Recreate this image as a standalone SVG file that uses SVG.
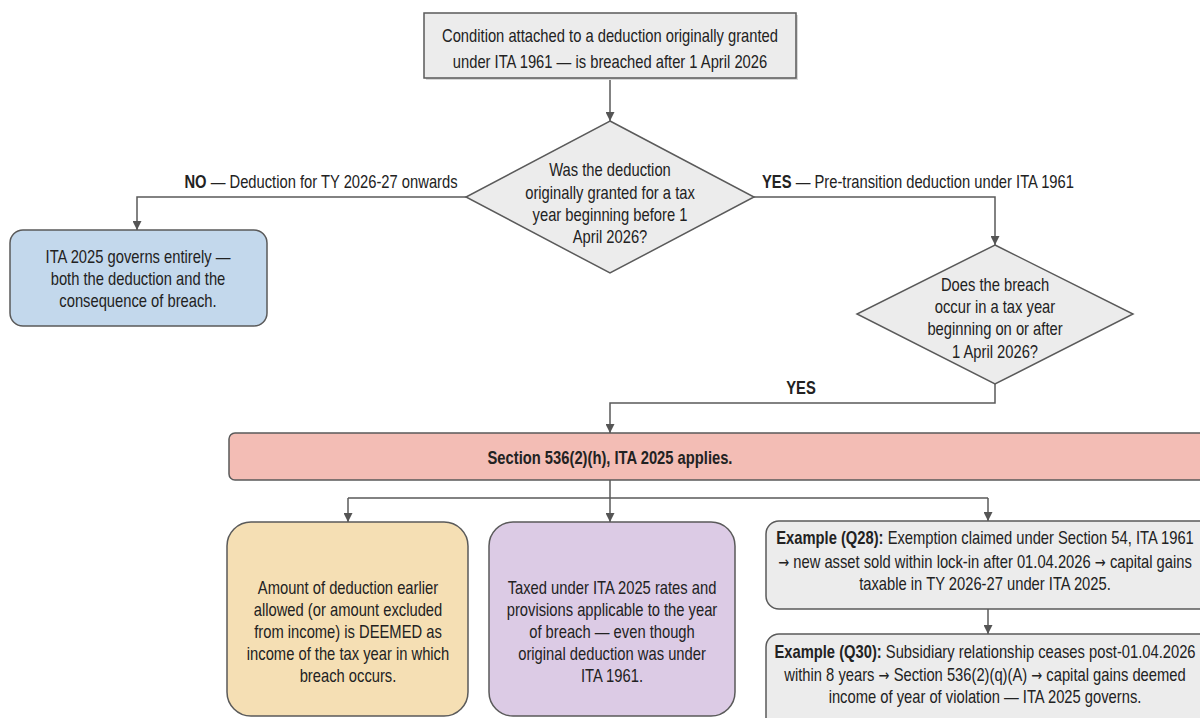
<svg xmlns="http://www.w3.org/2000/svg" width="1200" height="718" viewBox="0 0 1200 718">
<defs>
<marker id="ah" viewBox="0 0 10 10" refX="10" refY="5" markerWidth="9" markerHeight="9" markerUnits="userSpaceOnUse" orient="auto">
<path d="M0,0 L10,5 L0,10 z" fill="#555"/>
</marker>
<style>
text{font-family:"Liberation Sans",Arial,sans-serif;font-size:18px;fill:#222;text-anchor:middle}
.b{font-weight:bold}
.ar{font-family:"DejaVu Sans",sans-serif;font-size:16px}
.st{stroke:#5a5a5a;stroke-width:1.5}
.gray{fill:#ececec}
.conn path{fill:none;stroke:#5a5a5a;stroke-width:1.5}
.arr{marker-end:url(#ah)}
</style>
</defs>
<rect width="1200" height="718" fill="#ffffff"/>

<g id="connectors" class="conn">
<path class="arr" d="M610,78 V121"/>
<path class="arr" d="M466,197 H137 V230"/>
<path class="arr" d="M754,197 H995 V245"/>
<path class="arr" d="M995,384 V403 H610 V433"/>
<path d="M610,480 V498 M348,498 H988"/>
<path class="arr" d="M348,498 V522"/>
<path class="arr" d="M610,498 V522"/>
<path class="arr" d="M988,498 V521"/>
<path class="arr" d="M988,609 V634"/>
<g transform="translate(321 0) scale(0.82 1)"><text y="188"><tspan class="b">NO</tspan> — Deduction for TY 2026-27 onwards</text></g>
<g transform="translate(918 0) scale(0.82 1)"><text y="188"><tspan class="b">YES</tspan> — Pre-transition deduction under ITA 1961</text></g>
<g transform="translate(801 0) scale(0.82 1)"><text y="394" class="b">YES</text></g>
</g>

<g id="start">
<rect x="426" y="15" width="372" height="65" fill="#d8d8d8"/>
<rect x="424" y="13" width="372" height="65" class="gray st"/>
<g transform="translate(610 0) scale(0.82 1)">
<text y="42">Condition attached to a deduction originally granted</text>
<text y="68">under ITA 1961 — is breached after 1 April 2026</text>
</g>
</g>

<g id="decision1">
<polygon points="610,121 754,197 610,273 466,197" class="gray st"/>
<g transform="translate(610 0) scale(0.82 1)">
<text y="176">Was the deduction</text>
<text y="199">originally granted for a tax</text>
<text y="221">year beginning before 1</text>
<text y="243">April 2026?</text>
</g>
</g>

<g id="ita2025">
<rect x="10" y="230" width="257" height="96" rx="13" fill="#c3d8ec" class="st"/>
<g transform="translate(138 0) scale(0.82 1)">
<text y="263">ITA 2025 governs entirely —</text>
<text y="285">both the deduction and the</text>
<text y="307">consequence of breach.</text>
</g>
</g>

<g id="decision2">
<polygon points="995,245 1133,314 995,384 857,314" class="gray st"/>
<g transform="translate(995 0) scale(0.82 1)">
<text y="291">Does the breach</text>
<text y="313">occur in a tax year</text>
<text y="335">beginning on or after</text>
<text y="358">1 April 2026?</text>
</g>
</g>

<g id="section536">
<rect x="229" y="433" width="990" height="47" rx="6" fill="#f3bdb5" class="st"/>
<g transform="translate(610 0) scale(0.82 1)">
<text y="464" class="b">Section 536(2)(h), ITA 2025 applies.</text>
</g>
</g>

<g id="deemed">
<rect x="227" y="522" width="241" height="194" rx="24" fill="#f5dfb4" class="st"/>
<g transform="translate(348 0) scale(0.82 1)">
<text y="594">Amount of deduction earlier</text>
<text y="616">allowed (or amount excluded</text>
<text y="638">from income) is DEEMED as</text>
<text y="660">income of the tax year in which</text>
<text y="682">breach occurs.</text>
</g>
</g>

<g id="taxed">
<rect x="489" y="522" width="246" height="194" rx="24" fill="#dccbe5" class="st"/>
<g transform="translate(612 0) scale(0.82 1)">
<text y="594">Taxed under ITA 2025 rates and</text>
<text y="616">provisions applicable to the year</text>
<text y="638">of breach — even though</text>
<text y="660">original deduction was under</text>
<text y="682">ITA 1961.</text>
</g>
</g>

<g id="q28">
<rect x="766" y="521" width="450" height="88" rx="13" class="gray st"/>
<g transform="translate(985 0) scale(0.82 1)">
<text y="544"><tspan class="b">Example (Q28):</tspan> Exemption claimed under Section 54, ITA 1961</text>
<text y="568"><tspan class="ar">→</tspan> new asset sold within lock-in after 01.04.2026 <tspan class="ar">→</tspan> capital gains</text>
<text y="590">taxable in TY 2026-27 under ITA 2025.</text>
</g>
</g>

<g id="q30">
<rect x="766" y="634" width="450" height="100" rx="13" class="gray st"/>
<g transform="translate(985 0) scale(0.82 1)">
<text y="658"><tspan class="b">Example (Q30):</tspan> Subsidiary relationship ceases post-01.04.2026</text>
<text y="681">within 8 years <tspan class="ar">→</tspan> Section 536(2)(q)(A) <tspan class="ar">→</tspan> capital gains deemed</text>
<text y="703">income of year of violation — ITA 2025 governs.</text>
</g>
</g>
</svg>
